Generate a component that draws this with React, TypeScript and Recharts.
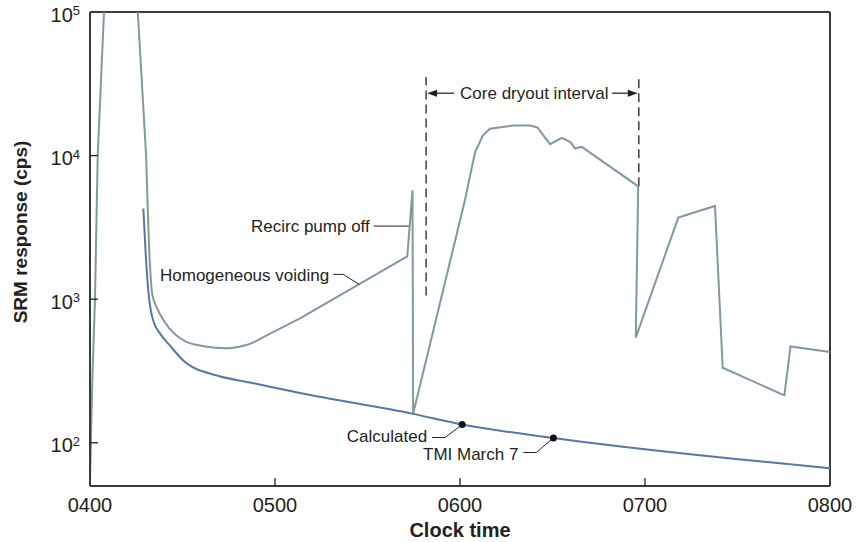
import React from 'react';
import { LineChart, Line, XAxis, YAxis, ReferenceLine, ReferenceDot } from 'recharts';

// ---- axis ticks ----
const xTicks = [0, 60, 120, 180, 240]; // minutes after 0400
const xTickLabels = ['0400', '0500', '0600', '0700', '0800'];
const yTicks = [100, 1000, 10000, 100000];
const yTickExponents = ['2', '3', '4', '5'];

// ---- measured SRM response (gray-green): startup spike ----
const measuredSpikeTime = [0, 0.75, 1.62, 2.5, 4.54, 10, 15.5, 18.2];
const measuredSpikeCps = [55, 272, 1000, 10000, 100000, 400000, 100000, 10000];
// ---- measured SRM response (gray-green): smooth decay and minimum ----
const measuredEarlyTime = [18.2, 19.3, 20.2, 21.6, 24.3, 30.8, 37.3, 44.4, 48, 51.9, 57.3, 68.1];
const measuredEarlyCps = [10000, 2000, 1080, 881, 690, 510, 469, 456, 465, 488, 560, 735];
// ---- measured SRM response (gray-green): later part ----
const measuredLateTime = [68.1, 102.9, 104.6, 104.8, 121.6, 124.9, 127.4, 129.7, 137.3, 142.7, 145.1, 149.2, 153.0, 155.9, 157.3, 159.5, 177.8, 177.0, 190.8, 202.7, 205.2, 225.2, 227.2, 240];
const measuredLateCps = [735, 1985, 5730, 159, 4890, 10600, 13800, 15400, 16200, 16200, 15700, 12000, 13300, 12400, 11200, 11500, 6110, 540, 3700, 4460, 333, 214, 469, 428];

// ---- calculated response (blue) ----
const calcTime = [17.3, 18.0, 18.9, 19.6, 20.5, 22.7, 25.9, 30.8, 41.2, 51.9, 68.1, 104.8, 120.7, 150.3, 240];
const calcCps = [4280, 2190, 1150, 863, 711, 578, 476, 365, 294, 263, 222, 159, 134, 108, 66.5];

// ---- annotations ----
const dryoutStart = 109;
const dryoutEnd = 178;
const dryoutDashBottom = [1062, 6110];
const dryoutDashTop = 35300;
const dryoutArrowLevel = 27200;
const markerTime = [120.7, 150.3];
const markerCps = [134, 108];
const markerLabels = ['Calculated', 'TMI March 7'];
const recircPoint = { t: 103.7, cps: 3230 };
const voidingPoint = { t: 87.3, cps: 1268 };

const toRows = (ts: number[], vs: number[]) => ts.map((t, i) => ({ t, v: vs[i] }));
const measuredSpike = toRows(measuredSpikeTime, measuredSpikeCps);
const measuredEarly = toRows(measuredEarlyTime, measuredEarlyCps);
const measuredLate = toRows(measuredLateTime, measuredLateCps);
const calcData = toRows(calcTime, calcCps);

const FONT = '"Liberation Sans", Arial, Helvetica, sans-serif';
const INK = '#231f20';
const AXIS = '#3a3a3a';
const GREEN = '#819c8f';
const BLUE = '#5a76a5';

const XTick = (props: any) => {
  const { x, y, payload } = props;
  const i = xTicks.indexOf(payload.value);
  return (
    <g>
      {i > 0 && i < xTicks.length - 1 && (
        <line x1={x} x2={x} y1={y} y2={y - 8} stroke={INK} strokeWidth={1.3} />
      )}
      <text x={x} y={y + 26} textAnchor="middle" fontSize={20} fontFamily={FONT} fill={INK}>
        {xTickLabels[i]}
      </text>
    </g>
  );
};

const YTick = (props: any) => {
  const { x, y, payload } = props;
  const i = yTicks.indexOf(payload.value);
  return (
    <g>
      {i < yTicks.length - 1 && (
        <line x1={x} x2={x + 8} y1={y} y2={y} stroke={INK} strokeWidth={1.3} />
      )}
      <text x={x - 10} y={y + 9.5} textAnchor="end" fontSize={20} fontFamily={FONT} fill={INK}>
        10
        <tspan dy={-6.5} fontSize={13}>{yTickExponents[i]}</tspan>
      </text>
    </g>
  );
};

const textProps = { fontSize: 17, fontFamily: FONT, fill: INK };

const RecircShape = (p: any) => (
  <g>
    <line x1={p.cx - 36} x2={p.cx - 1} y1={p.cy} y2={p.cy} stroke={INK} strokeWidth={1} />
    <text x={p.cx - 40} y={p.cy + 6} textAnchor="end" {...textProps}>Recirc pump off</text>
  </g>
);

const VoidingShape = (p: any) => (
  <g>
    <polyline points={`${p.cx - 26},${p.cy - 10} ${p.cx - 16},${p.cy - 10} ${p.cx},${p.cy}`} fill="none" stroke={INK} strokeWidth={1} />
    <text x={p.cx - 30} y={p.cy - 3} textAnchor="end" {...textProps}>Homogeneous voiding</text>
  </g>
);

const makeMarkerShape = (label: string, dy: number, textDy: number) => (p: any) => (
  <g>
    <polyline points={`${p.cx - 30},${p.cy + dy} ${p.cx - 17},${p.cy + dy} ${p.cx - 2},${p.cy + 1.5}`} fill="none" stroke={INK} strokeWidth={1} />
    <circle cx={p.cx} cy={p.cy} r={3.5} fill="#111" />
    <text x={p.cx - 35} y={p.cy + textDy} textAnchor="end" {...textProps}>{label}</text>
  </g>
);
const markerShapes = [makeMarkerShape(markerLabels[0], 13, 17.5), makeMarkerShape(markerLabels[1], 14.5, 22.5)];

const DryoutLeftShape = (p: any) => (
  <g>
    <line x1={p.cx + 8} x2={p.cx + 28} y1={p.cy} y2={p.cy} stroke={INK} strokeWidth={1.2} />
    <polygon points={`${p.cx + 1},${p.cy} ${p.cx + 11},${p.cy - 3.5} ${p.cx + 11},${p.cy + 3.5}`} fill={INK} />
    <text x={p.cx + 34} y={p.cy + 5.5} textAnchor="start" {...textProps}>Core dryout interval</text>
  </g>
);

const DryoutRightShape = (p: any) => (
  <g>
    <line x1={p.cx - 27} x2={p.cx - 8} y1={p.cy} y2={p.cy} stroke={INK} strokeWidth={1.2} />
    <polygon points={`${p.cx - 1},${p.cy} ${p.cx - 11},${p.cy - 3.5} ${p.cx - 11},${p.cy + 3.5}`} fill={INK} />
  </g>
);

export default function App() {
  return (
    <div style={{ position: 'absolute', left: 0, top: 0, background: '#fff' }}>
      <LineChart width={857} height={542} margin={{ top: 12, right: 27, bottom: 6, left: 30 }}>
        <XAxis
          type="number"
          dataKey="t"
          domain={[0, 240]}
          ticks={xTicks}
          interval={0}
          tickSize={0}
          tickMargin={0}
          tickLine={false}
          tick={<XTick />}
          height={50}
          axisLine={{ stroke: AXIS, strokeWidth: 2 }}
          allowDataOverflow
          label={{
            content: (lp: any) => {
              const vb = lp.viewBox || { x: 90, y: 486, width: 740 };
              return (
                <text x={vb.x + vb.width / 2} y={vb.y + 51} textAnchor="middle" fontSize={20} fontWeight="bold" fontFamily={FONT} fill={INK}>
                  Clock time
                </text>
              );
            },
          }}
        />
        <YAxis
          type="number"
          scale="log"
          domain={[50, 100000]}
          allowDataOverflow
          ticks={yTicks}
          interval={0}
          tickSize={0}
          tickMargin={0}
          tickLine={false}
          tick={<YTick />}
          width={60}
          axisLine={{ stroke: AXIS, strokeWidth: 2 }}
          label={{
            content: (lp: any) => {
              const vb = lp.viewBox || { x: 30, y: 12, width: 60, height: 474 };
              const cx = vb.x - 3;
              const cy = vb.y + vb.height / 2 - 17;
              return (
                <text x={cx} y={cy} transform={`rotate(-90, ${cx}, ${cy})`} textAnchor="middle" fontSize={19} fontWeight="bold" fontFamily={FONT} fill={INK}>
                  SRM response (cps)
                </text>
              );
            },
          }}
        />

        <ReferenceLine y={100000} stroke={AXIS} strokeWidth={2} />
        <ReferenceLine x={240} stroke={AXIS} strokeWidth={2} />

        <ReferenceLine
          segment={[{ x: dryoutStart, y: dryoutDashBottom[0] }, { x: dryoutStart, y: dryoutDashTop }]}
          stroke={INK}
          strokeWidth={1.3}
          strokeDasharray="9 5"
        />
        <ReferenceLine
          segment={[{ x: dryoutEnd, y: dryoutDashBottom[1] }, { x: dryoutEnd, y: dryoutDashTop }]}
          stroke={INK}
          strokeWidth={1.3}
          strokeDasharray="9 5"
        />

        <Line data={measuredSpike} dataKey="v" type="linear" stroke={GREEN} strokeWidth={2} dot={false} isAnimationActive={false} />
        <Line data={measuredEarly} dataKey="v" type="monotone" stroke={GREEN} strokeWidth={2} dot={false} isAnimationActive={false} />
        <Line data={measuredLate} dataKey="v" type="linear" stroke={GREEN} strokeWidth={2} dot={false} isAnimationActive={false} />
        <Line data={calcData} dataKey="v" type="monotone" stroke={BLUE} strokeWidth={2} dot={false} isAnimationActive={false} />

        <ReferenceDot x={recircPoint.t} y={recircPoint.cps} r={0} shape={RecircShape} />
        <ReferenceDot x={voidingPoint.t} y={voidingPoint.cps} r={0} shape={VoidingShape} />
        <ReferenceDot x={markerTime[0]} y={markerCps[0]} r={3.5} shape={markerShapes[0]} />
        <ReferenceDot x={markerTime[1]} y={markerCps[1]} r={3.5} shape={markerShapes[1]} />
        <ReferenceDot x={dryoutStart} y={dryoutArrowLevel} r={0} shape={DryoutLeftShape} />
        <ReferenceDot x={dryoutEnd} y={dryoutArrowLevel} r={0} shape={DryoutRightShape} />
      </LineChart>
    </div>
  );
}
